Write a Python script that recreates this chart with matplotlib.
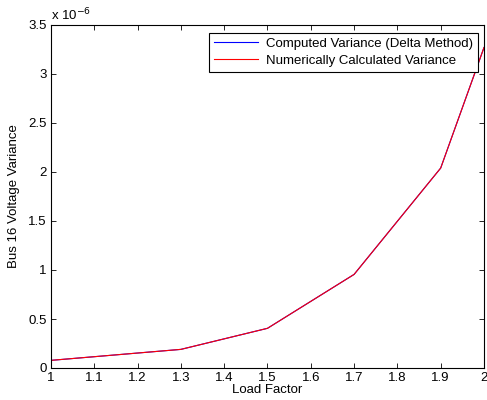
import matplotlib
matplotlib.use("Agg")
import matplotlib.pyplot as plt
from matplotlib.ticker import FuncFormatter

load_factor = [1.0, 1.3, 1.5, 1.7, 1.9, 2.0]
var_delta = [0.078e-6, 0.19e-6, 0.405e-6, 0.955e-6, 2.04e-6, 3.27e-6]
var_numeric = [0.078e-6, 0.19e-6, 0.405e-6, 0.955e-6, 2.04e-6, 3.27e-6]
xticks = [1, 1.1, 1.2, 1.3, 1.4, 1.5, 1.6, 1.7, 1.8, 1.9, 2]
yticks = [0, 0.5e-6, 1e-6, 1.5e-6, 2e-6, 2.5e-6, 3e-6, 3.5e-6]

plt.rcParams['font.family'] = ['Liberation Sans', 'DejaVu Sans']
fs = 9.5
plt.rcParams['font.size'] = fs

fig = plt.figure(figsize=(4.87, 4.0), dpi=100)
ax = fig.add_axes([0.1047, 0.08, 0.8891, 0.8575])
ax.plot(load_factor, var_delta, color='#0000ff', lw=0.8, label='Computed Variance (Delta Method)')
ax.plot(load_factor, var_numeric, color='#ff0000', lw=0.8, label='Numerically Calculated Variance')
ax.set_xlim(1, 2)
ax.set_ylim(0, 3.5e-6)
ax.set_xticks(xticks)
ax.set_yticks(yticks)
ax.xaxis.set_major_formatter(FuncFormatter(lambda v, p: ('%g' % round(v, 2))))
ax.yaxis.set_major_formatter(FuncFormatter(lambda v, p: ('%g' % round(v / 1e-6, 2))))
ax.tick_params(direction='in', top=True, right=True, length=3.6, width=0.6, labelsize=fs, pad=3)
for s in ax.spines.values():
    s.set_linewidth(0.8)
ax.text(0.0, 1.005, r'x 10$^{-6}$', transform=ax.transAxes, ha='left', va='bottom', fontsize=fs)
ax.set_xlabel('Load Factor', fontsize=fs, labelpad=0)
ax.set_ylabel('Bus 16 Voltage Variance', fontsize=fs, labelpad=6)
leg = ax.legend(loc='upper right', bbox_to_anchor=(0.9865, 0.978), fancybox=False, framealpha=1,
                edgecolor='black', borderpad=0.4, labelspacing=0.35, handlelength=3.3, handletextpad=0.6,
                borderaxespad=0, fontsize=fs)
leg.get_frame().set_linewidth(0.8)
fig.savefig('out.png', dpi=100)
